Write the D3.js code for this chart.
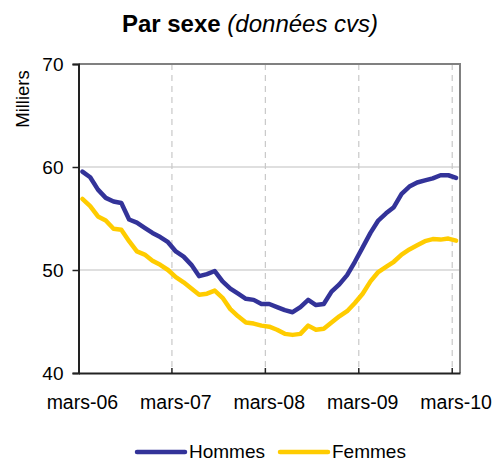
<!DOCTYPE html>
<html><head><meta charset="utf-8">
<script src="https://cdn.jsdelivr.net/npm/d3@7"></script>
<style>
html,body{margin:0;padding:0;background:#fff;}
svg{display:block;font-family:Arial,"Liberation Sans",sans-serif;}
</style></head>
<body>
<svg id="chart" width="496" height="463"></svg>
<script>
const categories = [
 "mars-06","avr-06","mai-06","juin-06","juil-06","août-06","sept-06","oct-06","nov-06","déc-06","janv-07","févr-07",
 "mars-07","avr-07","mai-07","juin-07","juil-07","août-07","sept-07","oct-07","nov-07","déc-07","janv-08","févr-08",
 "mars-08","avr-08","mai-08","juin-08","juil-08","août-08","sept-08","oct-08","nov-08","déc-08","janv-09","févr-09",
 "mars-09","avr-09","mai-09","juin-09","juil-09","août-09","sept-09","oct-09","nov-09","déc-09","janv-10","févr-10",
 "mars-10"];
const hommes = [59.55,59.0,57.8,57.0,56.65,56.5,54.9,54.6,54.1,53.6,53.2,52.7,
 51.8,51.3,50.5,49.4,49.6,49.9,48.9,48.2,47.7,47.2,47.1,46.7,
 46.7,46.4,46.1,45.9,46.4,47.1,46.6,46.7,47.9,48.6,49.5,50.8,
 52.2,53.6,54.8,55.5,56.1,57.4,58.1,58.5,58.7,58.9,59.2,59.2,
 58.95];
const femmes = [56.9,56.2,55.2,54.8,54.0,53.9,52.8,51.8,51.5,50.9,50.5,50.0,
 49.3,48.8,48.2,47.6,47.7,48.0,47.3,46.2,45.5,44.9,44.8,44.6,
 44.5,44.2,43.8,43.7,43.8,44.6,44.2,44.3,44.9,45.5,46.0,46.8,
 47.7,48.9,49.8,50.3,50.8,51.5,52.0,52.4,52.8,53.0,52.95,53.05,
 52.85];
const xTickLabels = ["mars-06","mars-07","mars-08","mars-09","mars-10"];
const yTicks = [40,50,60,70];
const seriesNames = ["Hommes","Femmes"];
const seriesColors = ["#333399","#FFCC00"];

const svg = d3.select("#chart");
const L = 78.5, R = 460, T = 64, B = 373;
const x = d3.scaleBand().domain(categories).range([L, R]).padding(0);
const y = d3.scaleLinear().domain([40,70]).range([B, T]);
const cx = d => x(d) + x.bandwidth()/2;
const FONT = "Arial,'Liberation Sans',sans-serif";

// title
const title = svg.append("text").attr("x", 250).attr("y", 32).attr("text-anchor","middle")
  .attr("font-size", 24).attr("fill","#000");
title.append("tspan").attr("font-weight","bold").text("Par sexe");
title.append("tspan").attr("font-style","italic").text(" (données cvs)");

// horizontal gridlines
svg.append("g").selectAll("line").data([50,60]).join("line")
  .attr("x1", L).attr("x2", R).attr("y1", d=>y(d)).attr("y2", d=>y(d))
  .attr("stroke","#c0c0c0").attr("stroke-width",1.2);

// vertical dashed gridlines
svg.append("g").selectAll("line").data(xTickLabels.slice(1)).join("line")
  .attr("x1", d=>x(d)).attr("x2", d=>x(d)).attr("y1", T).attr("y2", B)
  .attr("stroke","#c8c8c8").attr("stroke-width",1.2).attr("stroke-dasharray","6,5");

// top & right borders
svg.append("path").attr("d", `M${L},${T}H${R}V${B}`).attr("fill","none")
  .attr("stroke","#808080").attr("stroke-width",2);

// series lines
const line = d3.line().x((d,i)=>cx(categories[i])).y(d=>y(d));
[hommes, femmes].forEach((s,k)=>{
  svg.append("path").datum(s).attr("d", line).attr("fill","none")
    .attr("stroke", seriesColors[k]).attr("stroke-width",4.5)
    .attr("stroke-linejoin","round").attr("stroke-linecap","round");
});

// y axis
const yAxis = svg.append("g").attr("transform",`translate(${L},0)`)
  .call(d3.axisLeft(y).tickValues(yTicks).tickSize(6).tickPadding(9).tickFormat(d3.format("d")));
yAxis.select(".domain").attr("stroke","#222").attr("stroke-width",2);
yAxis.selectAll(".tick line").attr("stroke","#222").attr("stroke-width",1.5);
yAxis.selectAll("text").attr("font-size",19).attr("fill","#000").attr("font-family",FONT);

// x axis
const xAxis = svg.append("g").attr("transform",`translate(0,${B})`)
  .call(d3.axisBottom(x).tickValues(xTickLabels).tickSize(0));
xAxis.select(".domain").attr("stroke","#222").attr("stroke-width",2);
xAxis.selectAll("text").attr("font-size",19.5).attr("fill","#000").attr("font-family",FONT)
  .attr("y",36).attr("dy",0);
// inner tick marks at category boundaries
svg.append("g").selectAll("line").data(xTickLabels.slice(1)).join("line")
  .attr("x1", d=>x(d)).attr("x2", d=>x(d)).attr("y1", B-5).attr("y2", B)
  .attr("stroke","#222").attr("stroke-width",1.5);

// y axis title
svg.append("text").attr("transform","translate(29,99) rotate(-90)").attr("text-anchor","middle")
  .attr("font-size",18.5).attr("fill","#000").text("Milliers");

// legend
const legX = [137, 280];
seriesNames.forEach((n,k)=>{
  svg.append("line").attr("x1",legX[k]).attr("x2",legX[k]+48).attr("y1",452).attr("y2",452)
    .attr("stroke",seriesColors[k]).attr("stroke-width",4.5).attr("stroke-linecap","round");
  svg.append("text").attr("x",legX[k]+52).attr("y",458).attr("font-size",19).attr("fill","#000").text(n);
});
</script>
</body></html>
